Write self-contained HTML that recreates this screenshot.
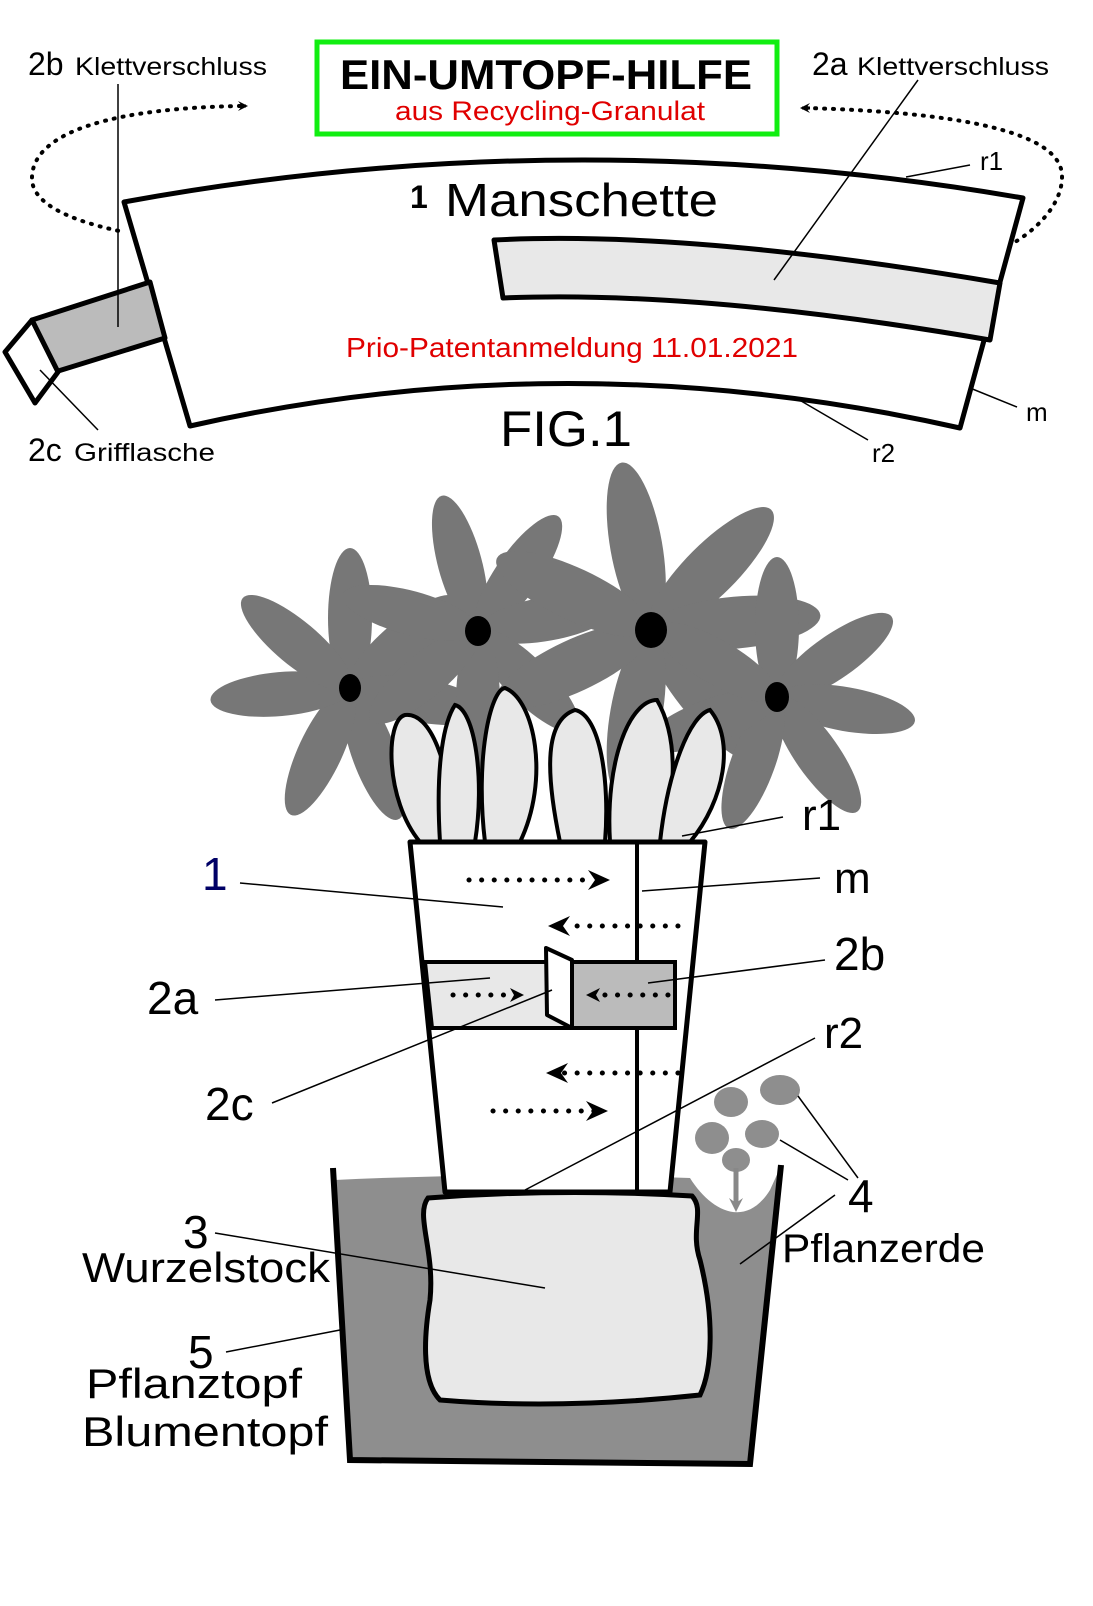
<!DOCTYPE html>
<html><head><meta charset="utf-8"><style>
html,body{margin:0;padding:0;background:#fff}
svg{display:block}
text{font-family:"Liberation Sans",sans-serif}
</style></head><body>
<svg width="1093" height="1606" viewBox="0 0 1093 1606" xmlns="http://www.w3.org/2000/svg">
<defs>
<marker id="ah" markerWidth="10" markerHeight="10" refX="8" refY="5" orient="auto" markerUnits="userSpaceOnUse"><path d="M0,0 L10,5 L0,10 L4,5 Z" fill="#000"/></marker>
<marker id="ahg" markerWidth="14" markerHeight="14" refX="7" refY="7" orient="auto" markerUnits="userSpaceOnUse"><path d="M0,0 L14,7 L0,14 L5,7 Z" fill="#888"/></marker>
<g id="pet"><ellipse cx="0" cy="-70" rx="22" ry="70" fill="#777"/></g>
<g id="petL"><ellipse cx="0" cy="-85" rx="26" ry="85" fill="#777"/></g>
</defs>

<rect x="317" y="42" width="460" height="92" fill="#fff" stroke="#11ee11" stroke-width="5"/>
<text x="340" y="89" font-size="42" font-weight="bold" textLength="412" lengthAdjust="spacingAndGlyphs">EIN-UMTOPF-HILFE</text>
<text x="395" y="120" font-size="27" fill="#e00000" textLength="310" lengthAdjust="spacingAndGlyphs">aus Recycling-Granulat</text>

<text x="28" y="75" font-size="32">2b</text><text x="75" y="75" font-size="25" textLength="192" lengthAdjust="spacingAndGlyphs">Klettverschluss</text>
<text x="812" y="75" font-size="32">2a</text><text x="857" y="75" font-size="25" textLength="192" lengthAdjust="spacingAndGlyphs">Klettverschluss</text>

<path d="M240,106 C120,108 30,130 32,180 C34,210 90,225 124,232" fill="none" stroke="#000" stroke-width="4" stroke-dasharray="1,8" stroke-linecap="round"/>
<path d="M240,106 L246,106" stroke="#000" stroke-width="3" marker-end="url(#ah)"/>
<path d="M806,108 C950,112 1060,130 1062,175 C1063,205 1035,230 1015,242" fill="none" stroke="#000" stroke-width="4" stroke-dasharray="1,8" stroke-linecap="round"/>
<path d="M810,108 L802,108" stroke="#000" stroke-width="3" marker-end="url(#ah)"/>

<path d="M124,202 Q570,120 1023,198 L960,428 Q570,340 190,426 Z" fill="#fff" stroke="#000" stroke-width="5" stroke-linejoin="round"/>
<path d="M494,240 Q690,230 1000,283 L990,340 Q700,290 503,298 Z" fill="#e8e8e8" stroke="#000" stroke-width="5" stroke-linejoin="round"/>
<path d="M32,320 L150,282 L165,338 L55,372 Z" fill="#bbb" stroke="#000" stroke-width="5" stroke-linejoin="round"/>
<path d="M32,320 L5,352 L35,403 L58,372 Z" fill="#fff" stroke="#000" stroke-width="5" stroke-linejoin="round"/>
<text x="410" y="208" font-size="32" font-weight="bold">1</text>
<text x="445" y="216" font-size="46" textLength="273" lengthAdjust="spacingAndGlyphs">Manschette</text>
<text x="346" y="357" font-size="28" fill="#e00000" textLength="452" lengthAdjust="spacingAndGlyphs">Prio-Patentanmeldung 11.01.2021</text>
<text x="500" y="446" font-size="50" textLength="132" lengthAdjust="spacingAndGlyphs">FIG.1</text>
<text x="28" y="461" font-size="32">2c</text><text x="74" y="461" font-size="25" textLength="141" lengthAdjust="spacingAndGlyphs">Grifflasche</text>
<text x="980" y="170" font-size="26">r1</text>
<text x="1026" y="421" font-size="26">m</text>
<text x="872" y="462" font-size="26">r2</text>
<g stroke="#000" stroke-width="1.5">
<line x1="118" y1="84" x2="118" y2="327"/>
<line x1="918" y1="80" x2="774" y2="280"/>
<line x1="970" y1="165" x2="906" y2="177"/>
<line x1="1017" y1="407" x2="970" y2="388"/>
<line x1="868" y1="440" x2="796" y2="398"/>
<line x1="98" y1="430" x2="40" y2="370"/>
</g>

<g transform="translate(350,688)"><use href="#pet" transform="rotate(0)"/><use href="#pet" transform="rotate(50)"/><use href="#pet" transform="rotate(100)"/><use href="#pet" transform="rotate(160)"/><use href="#pet" transform="rotate(205)"/><use href="#pet" transform="rotate(265)"/><use href="#pet" transform="rotate(310)"/></g>
<g transform="translate(478,631)"><use href="#pet" transform="rotate(-15)"/><use href="#pet" transform="rotate(35)"/><use href="#pet" transform="rotate(80)"/><use href="#pet" transform="rotate(135)"/><use href="#pet" transform="rotate(180)"/><use href="#pet" transform="rotate(230)"/><use href="#pet" transform="rotate(285)"/></g>
<g transform="translate(651,630)"><use href="#petL" transform="rotate(-10)"/><use href="#petL" transform="rotate(45)"/><use href="#petL" transform="rotate(85)"/><use href="#petL" transform="rotate(140)"/><use href="#petL" transform="rotate(190)"/><use href="#petL" transform="rotate(245)"/><use href="#petL" transform="rotate(295)"/></g>
<g transform="translate(777,697)"><use href="#pet" transform="rotate(0)"/><use href="#pet" transform="rotate(55)"/><use href="#pet" transform="rotate(100)"/><use href="#pet" transform="rotate(145)"/><use href="#pet" transform="rotate(200)"/><use href="#pet" transform="rotate(250)"/><use href="#pet" transform="rotate(300)"/></g>
<ellipse cx="350" cy="688" rx="11" ry="14" fill="#000"/>
<ellipse cx="478" cy="631" rx="13" ry="15" fill="#000"/>
<ellipse cx="651" cy="630" rx="16" ry="18" fill="#000"/>
<ellipse cx="777" cy="697" rx="12" ry="15" fill="#000"/>

<g fill="#e8e8e8" stroke="#000" stroke-width="4">
<path d="M420,842 C385,800 385,720 405,715 C430,712 450,760 455,842 Z"/>
<path d="M440,842 C435,760 445,720 455,705 C475,710 485,780 475,842 Z"/>
<path d="M485,842 C475,760 490,690 505,688 C535,700 550,780 520,842 Z"/>
<path d="M560,842 C545,770 545,720 575,710 C600,715 610,780 605,842 Z"/>
<path d="M610,842 C605,760 630,700 657,700 C680,740 675,800 660,842 Z"/>
<path d="M660,842 C668,770 690,715 710,710 C735,740 725,800 690,842 Z"/>
</g>

<path d="M335,1180 Q500,1172 690,1178 C710,1210 745,1230 770,1190 L780,1168 L750,1464 L350,1460 Z" fill="#8e8e8e"/>
<path d="M333,1168 L350,1460 L750,1464 L781,1165" fill="none" stroke="#000" stroke-width="6"/>
<path d="M428,1198 Q560,1188 692,1196 C705,1210 690,1230 700,1260 C715,1320 712,1370 700,1395 Q560,1410 440,1400 C420,1380 425,1330 430,1300 C435,1250 415,1215 428,1198 Z" fill="#e8e8e8" stroke="#000" stroke-width="5"/>

<path d="M410,842 L705,842 L670,1192 L445,1192 Z" fill="#fff" stroke="#000" stroke-width="5" stroke-linejoin="round"/>
<line x1="637" y1="842" x2="637" y2="1192" stroke="#000" stroke-width="4"/>
<path d="M425,962 L572,962 L572,1028 L432,1028 Z" fill="#e8e8e8" stroke="#000" stroke-width="4"/>
<rect x="572" y="962" width="103" height="66" fill="#bbb" stroke="#000" stroke-width="4"/>
<path d="M546,948 L572,960 L572,1028 L547,1015 Z" fill="#fff" stroke="#000" stroke-width="4" stroke-linejoin="round"/>

<g stroke="#000" stroke-width="5" stroke-dasharray="0.1,12.5" stroke-linecap="round" fill="none">
<line x1="469" y1="880" x2="595" y2="880"/>
<line x1="678" y1="926" x2="565" y2="926"/>
<line x1="453" y1="995" x2="510" y2="995"/>
<line x1="668" y1="995" x2="600" y2="995"/>
<line x1="678" y1="1073" x2="560" y2="1073"/>
<line x1="493" y1="1111" x2="595" y2="1111"/>
</g>
<g fill="#000">
<path d="M610,880 L588,870 L595,880 L588,890 Z"/>
<path d="M548,926 L570,916 L563,926 L570,936 Z"/>
<path d="M524,995 L510,988 L514,995 L510,1002 Z"/>
<path d="M586,995 L600,988 L596,995 L600,1002 Z"/>
<path d="M546,1073 L568,1063 L561,1073 L568,1083 Z"/>
<path d="M608,1111 L586,1101 L593,1111 L586,1121 Z"/>
</g>

<g fill="#8e8e8e">
<ellipse cx="731" cy="1102" rx="17" ry="15"/>
<ellipse cx="780" cy="1090" rx="20" ry="15"/>
<ellipse cx="712" cy="1138" rx="17" ry="16"/>
<ellipse cx="762" cy="1134" rx="17" ry="14"/>
<ellipse cx="736" cy="1160" rx="14" ry="12"/>
</g>
<line x1="736" y1="1168" x2="736" y2="1205" stroke="#888" stroke-width="5" marker-end="url(#ahg)"/>

<g stroke="#000" stroke-width="1.5">
<line x1="682" y1="836" x2="783" y2="817"/>
<line x1="642" y1="891" x2="820" y2="878"/>
<line x1="240" y1="883" x2="503" y2="907"/>
<line x1="648" y1="983" x2="825" y2="960"/>
<line x1="215" y1="1000" x2="490" y2="978"/>
<line x1="272" y1="1103" x2="552" y2="990"/>
<line x1="525" y1="1190" x2="815" y2="1038"/>
<line x1="798" y1="1096" x2="858" y2="1178"/>
<line x1="780" y1="1140" x2="848" y2="1180"/>
<line x1="740" y1="1264" x2="835" y2="1195"/>
<line x1="215" y1="1233" x2="545" y2="1288"/>
<line x1="226" y1="1352" x2="340" y2="1330"/>
</g>
<text x="802" y="830" font-size="44">r1</text>
<text x="834" y="893" font-size="44">m</text>
<text x="202" y="890" font-size="46" fill="#000066">1</text>
<text x="834" y="970" font-size="46">2b</text>
<text x="147" y="1014" font-size="46">2a</text>
<text x="824" y="1048" font-size="44">r2</text>
<text x="205" y="1120" font-size="46">2c</text>
<text x="848" y="1212" font-size="46">4</text>
<text x="782" y="1262" font-size="40" textLength="203" lengthAdjust="spacingAndGlyphs">Pflanzerde</text>
<text x="183" y="1248" font-size="46">3</text>
<text x="82" y="1282" font-size="42" textLength="248" lengthAdjust="spacingAndGlyphs">Wurzelstock</text>
<text x="188" y="1368" font-size="46">5</text>
<text x="86" y="1398" font-size="42" textLength="216" lengthAdjust="spacingAndGlyphs">Pflanztopf</text>
<text x="82" y="1446" font-size="42" textLength="246" lengthAdjust="spacingAndGlyphs">Blumentopf</text>
</svg>
</body></html>
